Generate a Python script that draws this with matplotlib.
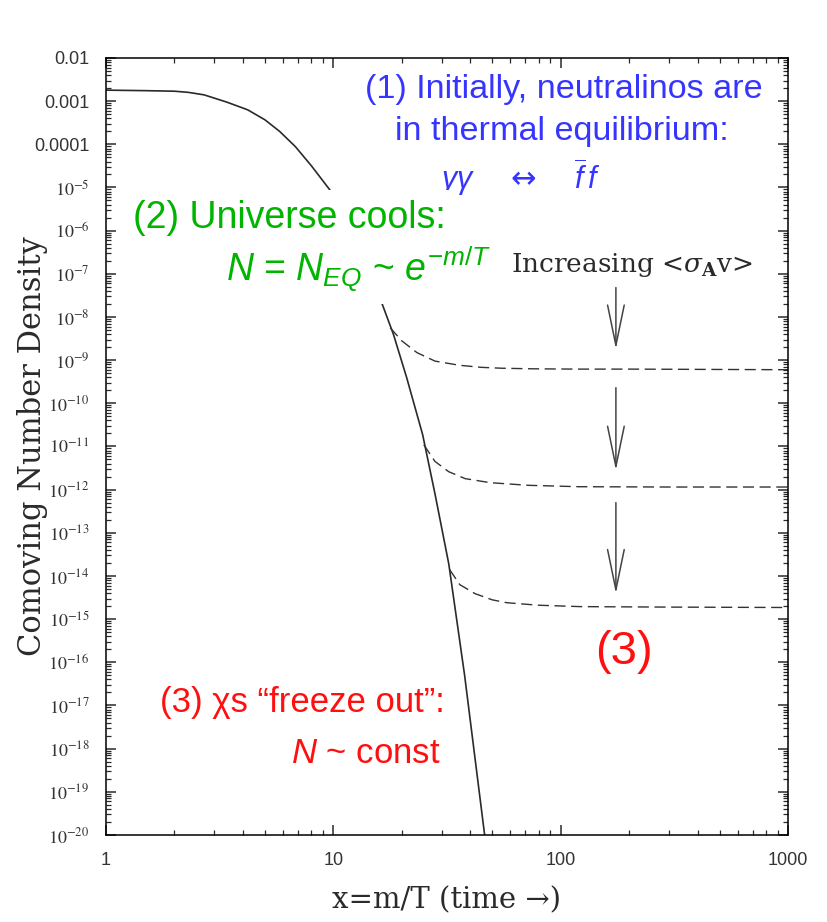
import matplotlib
matplotlib.use("Agg")
import matplotlib.pyplot as plt
from matplotlib.ticker import LogLocator, NullFormatter

# equilibrium (solid) curve
eq_x = [1.0, 1.5, 2.0, 2.3, 2.7, 3.4, 4.2, 5.0, 5.8, 6.8, 8.0, 9.7, 12.0, 14.0,
        16.1, 18.4, 21.0, 24.7, 28.0, 32.2, 37.8, 46.3]
eq_n = [1.8e-3, 1.75e-3, 1.7e-3, 1.6e-3, 1.4e-3, 9.5e-4, 6.3e-4, 3.7e-4, 2.0e-4,
        8.9e-5, 3.2e-5, 8.5e-6, 1.1e-6, 1.8e-7, 2.6e-8, 3.9e-9, 4.0e-10, 1.9e-11,
        8.0e-13, 1.9e-14, 5.0e-17, 1.0e-20]

# freeze-out (dashed) branches
fo1_x = [17.8, 20.0, 23.3, 28.0, 35.9, 45.0, 55.0, 75.0, 120.0, 200.0, 1000.0]
fo1_n = [5.6e-9, 2.8e-9, 1.5e-9, 9.5e-10, 7.6e-10, 6.8e-10, 6.5e-10, 6.3e-10,
         6.2e-10, 6.2e-10, 6.0e-10]
fo2_x = [25.0, 28.0, 32.2, 38.0, 49.0, 72.0, 120.0, 300.0, 1000.0]
fo2_n = [1.1e-11, 4.5e-12, 2.6e-12, 1.8e-12, 1.45e-12, 1.26e-12, 1.17e-12,
         1.15e-12, 1.15e-12]
fo3_x = [32.5, 36.0, 42.0, 50.0, 58.0, 80.0, 122.0, 300.0, 1000.0]
fo3_n = [1.4e-14, 6.3e-15, 3.9e-15, 2.8e-15, 2.4e-15, 2.1e-15, 1.95e-15,
         1.9e-15, 1.86e-15]

# "Increasing <sigma v>" arrows: x position, start and tip
arrow_x = 175.0
arrow_start = [4.8e-8, 2.3e-10, 5.0e-13]
arrow_tip = [1.8e-9, 2.8e-12, 3.9e-15]

xtick_vals = [1, 10, 100, 1000]
xtick_labels = ["1", "10", "100", "1000"]
ytick_exps = list(range(-2, -21, -1))
ytick_labels = ["0.01", "0.001", "0.0001"] + [r"$10^{%d}$" % e for e in ytick_exps[3:]]

plt.rcParams.update({
    "font.family": ["Liberation Sans", "DejaVu Sans"],
    "mathtext.fontset": "custom",
    "mathtext.rm": "Liberation Sans",
    "mathtext.it": "Liberation Sans:italic",
    "mathtext.bf": "Liberation Sans:bold",
    "axes.linewidth": 1.1,
})

BLUE = "#3535ff"
GREEN = "#00b400"
RED = "#ff1010"
INK = "#2a2a2a"

fig = plt.figure(figsize=(8.27, 9.22), dpi=100)
ax = fig.add_axes([0.1282, 0.0944, 0.8246, 0.8427])

ax.plot(eq_x, eq_n, color=INK, lw=1.2, zorder=2)
for fx, fn in [(fo1_x, fo1_n), (fo2_x, fo2_n), (fo3_x, fo3_n)]:
    ax.plot(fx, fn, color="#333333", lw=1.0, dashes=(8, 4), zorder=2)

for y0, y1 in zip(arrow_start, arrow_tip):
    ax.annotate("", xy=(arrow_x, y1), xytext=(arrow_x, y0),
                arrowprops=dict(arrowstyle="->,head_length=1.45,head_width=0.3",
                                mutation_scale=20, color="#444444", lw=1.1,
                                shrinkA=0, shrinkB=0))

ax.set_xscale("log")
ax.set_yscale("log")
ax.set_xlim(1, 1000)
ax.set_ylim(1e-20, 1e-2)

ax.set_xticks(xtick_vals, xtick_labels)
ax.set_yticks([10.0 ** e for e in ytick_exps], ytick_labels)
ax.xaxis.set_minor_locator(LogLocator(base=10, subs=range(2, 10), numticks=1000))
ax.yaxis.set_minor_locator(LogLocator(base=10, subs=range(2, 10), numticks=1000))
ax.xaxis.set_minor_formatter(NullFormatter())
ax.yaxis.set_minor_formatter(NullFormatter())
ax.tick_params(which="both", direction="in", top=True, right=True,
               colors=INK, labelcolor="#333333")
ax.tick_params(which="major", length=7, width=1.1, labelsize=13)
ax.tick_params(which="minor", length=3.5, width=0.9)
ax.tick_params(axis="y", which="major", pad=12)
ax.tick_params(axis="x", which="major", pad=12)
for lab in ax.get_yticklabels():
    if lab.get_text().startswith("$"):
        lab.set_math_fontfamily("stix")

ax.set_xlabel("x=m/T (time \u2192)", family="DejaVu Serif", fontsize=21, color=INK)
ax.set_ylabel("Comoving Number Density", family="DejaVu Serif", fontsize=22, color=INK)
ax.xaxis.set_label_coords(0.5, -0.084)
ax.xaxis.label.set_va("center")
ax.yaxis.set_label_coords(-0.108, 0.5)
ax.yaxis.label.set_va("center")

# (1) equilibrium note
ax.text(0.671, 0.949, "(1) Initially, neutralinos are", transform=ax.transAxes,
        ha="center", va="baseline", fontsize=24.6, color=BLUE)
ax.text(0.669, 0.894, "in thermal equilibrium:", transform=ax.transAxes,
        ha="center", va="baseline", fontsize=24.6, color=BLUE)
ax.text(0.608, 0.831, "$\\gamma\\gamma$    \u2194    $\\overline{f}\\,f$",
        transform=ax.transAxes, ha="center", va="baseline", fontsize=22,
        color=BLUE, family="DejaVu Sans")

# (2) cooling note, boxed in white over the curve
box = dict(facecolor="white", edgecolor="none", pad=7)
ax.text(0.039, 0.781, "(2) Universe cools:", transform=ax.transAxes,
        ha="left", va="baseline", fontsize=27, color=GREEN, bbox=box)
ax.text(0.565, 0.713, r"$N$ = $N_{EQ}$ ~ $e^{-m/T}$", transform=ax.transAxes,
        ha="right", va="baseline", fontsize=27, color=GREEN, bbox=box)

ax.text(0.594, 0.725, r"Increasing <$\sigma_{\mathbf{A}}$v>", transform=ax.transAxes,
        ha="left", va="baseline", fontsize=19, color=INK, family="DejaVu Serif",
        math_fontfamily="dejavuserif")

# (3) freeze-out note
ax.text(0.497, 0.158, "(3) \u03c7s \u201cfreeze out\u201d:", transform=ax.transAxes,
        ha="right", va="baseline", fontsize=25, color=RED)
ax.text(0.490, 0.092, r"$N$ ~ const", transform=ax.transAxes,
        ha="right", va="baseline", fontsize=25, color=RED)
ax.text(0.760, 0.220, "(3)", transform=ax.transAxes,
        ha="center", va="baseline", fontsize=34, color=RED)

fig.savefig("out.png", dpi=100)
